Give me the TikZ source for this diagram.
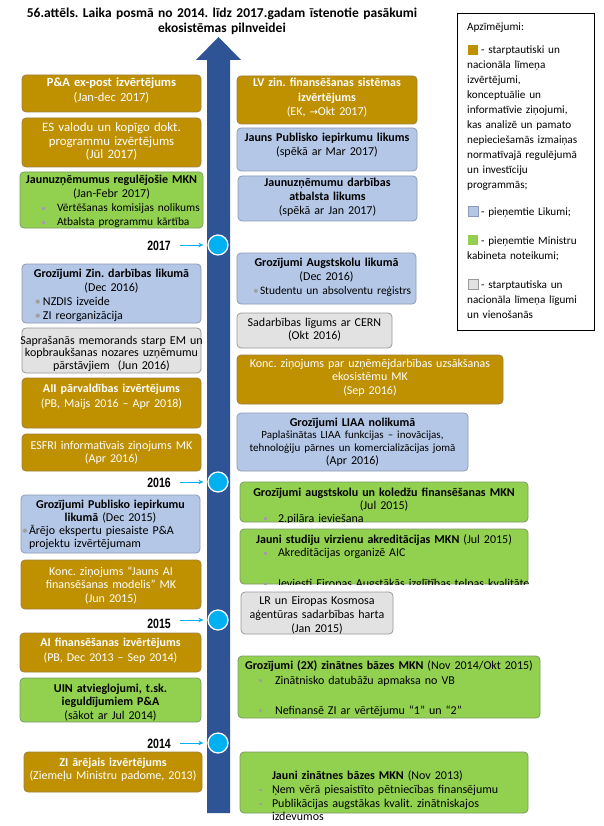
\documentclass[tikz,border=0pt]{standalone}
\usepackage{fontspec}
\setmainfont{Carlito}
\newfontfamily\yearfont[FakeStretch=0.78]{Liberation Sans}
\newfontfamily\arrowf{DejaVu Sans}
\usetikzlibrary{arrows.meta}
\definecolor{gold}{HTML}{BF9000}
\definecolor{goldline}{HTML}{A08040}
\definecolor{lblue}{HTML}{B4C7E7}
\definecolor{blueline}{HTML}{8C9BB5}
\definecolor{lgreen}{HTML}{92D050}
\definecolor{greenline}{HTML}{7E9A68}
\definecolor{lgrey}{HTML}{E2E2E2}
\definecolor{greyline}{HTML}{9A9A9A}
\definecolor{arrowblue}{HTML}{2F5496}
\definecolor{cyanblue}{HTML}{00B0F0}
\definecolor{bulc}{HTML}{A0A0A0}
\frenchspacing
\newcommand\bulr{\textcolor{bulc}{\textbullet}}
\newcommand\buls{\raisebox{2pt}{\textcolor{bulc}{\rule{2.6pt}{2.6pt}}}}
% offset measured from the box's left edge; text nodes start 30pt left of the box
\newcommand\bitem[4]{\par\noindent\hspace*{\dimexpr#1+30pt\relax}\makebox[#2][l]{#3}#4\par}
\newcommand\bcont[2]{\par\noindent\hspace*{\dimexpr#1+30pt\relax}#2\par}
\newcommand\mkbox[6]{\node[#2, anchor=north west, minimum width={#5-#3}, minimum height={#6-#4}] (#1) at (#3,#4) {};}
% name, style, x1, x2, first baseline, text
\newcommand\mktext[6]{\pgfmathsetlengthmacro\tw{(#4)-(#3)+60}\node[#2, anchor=base, text width=\tw] (#1) at ({(#3+#4)/2},#5) {#6};}
\newcommand\smf{\fontsize{11.4}{14}\selectfont}
\begin{document}
\begin{tikzpicture}[x=1pt,y=-1pt,
  boxbase/.style={rounded corners=4pt, line width=0.8pt, inner sep=0pt, outer sep=0pt},
  goldbox/.style={boxbase, fill=gold, draw=goldline},
  bluebox/.style={boxbase, fill=lblue, draw=blueline},
  greenbox/.style={boxbase, fill=lgreen, draw=greenline},
  greybox/.style={boxbase, fill=lgrey, draw=greyline},
  ls/.style={font=\fontsize{12}{#1}\selectfont},
  txt/.style={inner sep=0pt, outer sep=0pt, text=black, ls=13.5},
  wtxt/.style={txt, text=white},
  yearlbl/.style={inner sep=0pt, font=\yearfont\bfseries\fontsize{13.5}{14}\selectfont, anchor=base east},
  yeardot/.style={circle, fill=cyanblue, draw=white, line width=1.2pt, minimum size=20pt, inner sep=0pt},
  yarrow/.style={draw=cyanblue, line width=1pt, -{Stealth[length=5pt,width=4.5pt]}, shorten <=9pt, shorten >=4pt},
  legsq/.style={minimum size=10pt, inner sep=0pt, line width=0.5pt},
  legtxt/.style={inner sep=0pt, anchor=base west, text width=140pt, font=\fontsize{11.2}{15}\selectfont}
]
\useasboundingbox (0,0) rectangle (604,826);
\fill[white] (0,0) rectangle (604,826);

% title
\node[inner sep=0pt, anchor=base, text width=460pt, font=\bfseries\fontsize{13.5}{15}\selectfont] (title) at (222,18)
  {\centering 56.attēls. Laika posmā no 2014. līdz 2017.gadam īstenotie pasākumi\\ekosistēmas pilnveidei\par};

% main time arrow
\fill[arrowblue] (207,813) -- (207,60) -- (196,60) -- (218.5,37) -- (241,60) -- (230,60) -- (230,813) -- cycle;

% ---------- left column ----------
\mkbox{l1}{goldbox}{22}{75}{201}{112}
\mktext{l1t}{wtxt,font=\fontsize{12.5}{15}\selectfont}{22}{201}{87}{{\centering\textbf{P\&A ex-post izvērtējums}\\(Jan-dec 2017)\par}}

\mkbox{l2}{goldbox}{22}{118}{201}{167}
\mktext{l2t}{wtxt,font=\fontsize{12.8}{13.5}\selectfont}{22}{201}{132}{{\centering ES valodu un kopīgo dokt.\\programmu izvērtējums\\(Jūl 2017)\par}}

\mkbox{l3}{greenbox}{20}{172}{203}{228}
\mktext{l3t}{txt,ls=14}{20}{203}{184}{{\centering\textbf{Jaunuzņēmumus regulējošie MKN}\\(Jan-Febr 2017)\par}
  {\smf\bitem{22pt}{15pt}{\buls}{Vērtēšanas komisijas nolikums}
  \bitem{22pt}{15pt}{\buls}{Atbalsta programmu kārtība}}}

\mkbox{l4}{bluebox}{22}{264}{201}{323}
\mktext{l4t}{txt,ls=14}{22}{201}{277}{{\centering\textbf{Grozījumi Zin. darbības likumā}\\(Dec 2016)\par}
  \bitem{13pt}{8pt}{\bulr}{NZDIS izveide}
  \bitem{13pt}{8pt}{\bulr}{ZI reorganizācija}}

\mkbox{l5}{greybox}{22}{328}{201}{373}
\mktext{l5t}{txt,ls=12.7}{22}{201}{344}{{\centering Saprašanās memorands starp EM un\\kopbraukšanas nozares uzņēmumu\\pārstāvjiem\ \ (Jun 2016)\par}}

\mkbox{l6}{goldbox}{22}{378}{201}{428}
\mktext{l6t}{wtxt,ls=15}{22}{201}{392}{{\centering\textbf{AII pārvaldības izvērtējums}\\(PB, Maijs 2016 – Apr 2018)\par}}

\mkbox{l7}{goldbox}{22}{434}{201}{471}
\mktext{l7t}{wtxt}{22}{201}{449}{{\centering ESFRI informatīvais ziņojums MK\\(Apr 2016)\par}}

\mkbox{l8}{bluebox}{21}{495}{200}{553}
\mktext{l8t}{txt,ls=13}{21}{200}{508}{{\centering\textbf{Grozījumi Publisko iepirkumu}\\\textbf{likumā} (Dec 2015)\par}
  \bitem{1pt}{7pt}{\bulr}{Ārējo ekspertu piesaiste P\&A}
  \bcont{8pt}{projektu izvērtējumam}}

\mkbox{l9}{goldbox}{21}{560}{201}{609}
\mktext{l9t}{wtxt}{21}{201}{575}{{\centering Konc. ziņojums “Jauns AI\\finansēšanas modelis” MK\\(Jun 2015)\par}}

\mkbox{l10}{goldbox}{20}{633}{201}{672}
\mktext{l10t}{wtxt,ls=15}{20}{201}{646}{{\centering\textbf{AI finansēšanas izvērtējums}\\(PB, Dec 2013 – Sep 2014)\par}}

\mkbox{l11}{greenbox}{20}{678}{201}{722}
\mktext{l11t}{txt}{20}{201}{692}{{\centering\textbf{UIN atvieglojumi, t.sk.}\\\textbf{ieguldījumiem P\&A}\\(sākot ar Jul 2014)\par}}

\mkbox{l12}{goldbox}{24}{752}{202}{792}
\mktext{l12t}{wtxt}{24}{202}{766}{{\centering\textbf{ZI ārējais izvērtējums}\\(Ziemeļu Ministru padome, 2013)\par}}

% ---------- right column ----------
\mkbox{r1}{goldbox}{237}{76}{417}{124}
\mktext{r1t}{wtxt,ls=14.5}{237}{417}{87}{{\centering\textbf{LV zin. finansēšanas sistēmas}\\\textbf{izvērtējums}\\(EK, {\arrowf\fontsize{10}{12}\selectfont →}Okt 2017)\par}}

\mkbox{r2}{bluebox}{237}{128}{417}{171}
\mktext{r2t}{txt}{237}{417}{142}{{\centering\textbf{Jauns Publisko iepirkumu likums}\\(spēkā ar Mar 2017)\par}}

\mkbox{r3}{bluebox}{238}{176}{417}{221}
\mktext{r3t}{txt,ls=14}{238}{417}{187}{{\centering\textbf{Jaunuzņēmumu darbības}\\\textbf{atbalsta likums}\\(spēkā ar Jan 2017)\par}}

\mkbox{r4}{bluebox}{237}{253}{416}{304}
\mktext{r4t}{txt,ls=14}{237}{416}{266}{{\centering\textbf{Grozījumi Augstskolu likumā}\\(Dec 2016)\par}
  {\smf\bitem{16pt}{7pt}{\bulr}{Studentu un absolventu reģistrs}}}

\mkbox{r5}{greybox}{237}{313}{392}{348}
\mktext{r5t}{txt}{237}{392}{326}{{\centering Sadarbības līgums ar CERN\\(Okt 2016)\par}}

\mkbox{r6}{goldbox}{237}{355}{503}{404}
\mktext{r6t}{wtxt}{237}{503}{367}{{\centering Konc. ziņojums par uzņēmējdarbības uzsākšanas\\ekosistēmu MK\\(Sep 2016)\par}}

\mkbox{r7}{bluebox}{237}{413}{468}{471}
\mktext{r7t}{txt,ls=12.8}{237}{468}{426}{{\centering\textbf{Grozījumi LIAA nolikumā}\\{\fontsize{11}{12.8}\selectfont Paplašinātas LIAA funkcijas – inovācijas,\\tehnoloģiju pārnes un komercializācijas jomā}\\(Apr 2016)\par}}

\mkbox{r8}{greenbox}{240}{482}{528}{522}
\begin{scope}
\clip (r8.north west) rectangle (r8.south east);
\mktext{r8t}{txt,ls=13}{240}{528}{496}{{\centering\textbf{Grozījumi augstskolu un koledžu finansēšanas MKN}\\(Jul 2015)\par}
  \bitem{24pt}{14pt}{\buls}{2.pilāra ieviešana}}
\end{scope}

\mkbox{r9}{greenbox}{240}{529}{528}{584}
\begin{scope}
\clip (r9.north west) rectangle (r9.south east);
\mktext{r9t}{txt,ls=13.7}{240}{528}{543}{{\centering\textbf{Jauni studiju virzienu akreditācijas MKN} (Jul 2015)\par}
  \bitem{24pt}{14pt}{\buls}{Akreditācijas organizē AIC}
  \mbox{}\par\vspace*{3pt}
  \bitem{24pt}{14pt}{\buls}{Ieviesti Eiropas Augstākās izglītības telpas kvalitātes}}
\end{scope}

\mkbox{r10}{greybox}{241}{592}{393}{634}
\begin{scope}
\clip (r10.north west) rectangle (r10.south east);
\mktext{r10t}{txt,ls=14}{241}{393}{604}{{\centering LR un Eiropas Kosmosa\\aģentūras sadarbības harta\\(Jan 2015)\par}}
\end{scope}

\mkbox{r11}{greenbox}{238}{656}{540}{718}
\mktext{r11t}{txt,ls=15}{238}{540}{669}{{\centering\textbf{Grozījumi (2X) zinātnes bāzes MKN} (Nov 2014/Okt 2015)\par}
  \bitem{21pt}{16pt}{\buls}{Zinātnisko datubāžu apmaksa no VB}
  \mbox{}\par
  \bitem{21pt}{16pt}{\buls}{Nefinansē ZI ar vērtējumu “1” un “2”}}

\mkbox{r12}{greenbox}{240}{752}{528}{813}
\mktext{r12t}{txt,ls=13.7}{240}{528}{766}{\bcont{32pt}{\textbf{Jauni zinātnes bāzes MKN} (Nov 2013)}
  \bitem{19pt}{13pt}{\buls}{Ņem vērā piesaistīto pētniecības finansējumu}
  \bitem{19pt}{13pt}{\buls}{Publikācijas augstākas kvalit. zinātniskajos}
  \bcont{32pt}{izdevumos}}

% ---------- years ----------
\node[yeardot] (c17) at (218,245) {};
\node[yeardot] (c16) at (218,482) {};
\node[yeardot] (c15) at (218,620) {};
\node[yeardot] (c14) at (218,743) {};
\node[yearlbl] (y17) at (171,250) {2017};
\node[yearlbl] (y16) at (171,487) {2016};
\node[yearlbl] (y15) at (171,628) {2015};
\node[yearlbl] (y14) at (171,748) {2014};
\draw[yarrow] (y17.east |- c17.center) -- (c17.west);
\draw[yarrow] (y16.east |- c16.center) -- (c16.west);
\draw[yarrow] (y15.east |- c15.center) -- (c15.west);
\draw[yarrow] (y14.east |- c14.center) -- (c14.west);

% ---------- legend ----------
\node[draw=black, line width=0.7pt, inner sep=0pt, anchor=north west, minimum width=137pt, minimum height=317pt] (legend) at (457,13) {};
\node[legtxt] (lgh) at (467,31) {Apzīmējumi:};
\node[legsq, fill=gold] (sq1) at (473,50) {};
\node[legtxt] (lg1) at (467,54) {\raggedright\hspace*{14pt}- starptautiski un\\nacionāla līmeņa\\izvērtējumi,\\konceptuālie un\\informatīvie ziņojumi,\\kas analizē un pamato\\nepieciešamās izmaiņas\\normatīvajā regulējumā\\un investīciju\\programmās;};
\node[legsq, fill=lblue, draw=blueline] (sq2) at (473,211) {};
\node[legtxt] (lg2) at (467,215) {\raggedright\hspace*{14pt}- pieņemtie Likumi;};
\node[legsq, fill=lgreen] (sq3) at (473,239.5) {};
\node[legtxt] (lg3) at (467,244) {\raggedright\hspace*{14pt}- pieņemtie Ministru\\kabineta noteikumi;};
\node[legsq, fill=lgrey, draw=greyline] (sq4) at (473,284) {};
\node[legtxt] (lg4) at (467,288) {\raggedright\hspace*{14pt}- starptautiska un\\nacionāla līmeņa līgumi\\un vienošanās};
\end{tikzpicture}
\end{document}
